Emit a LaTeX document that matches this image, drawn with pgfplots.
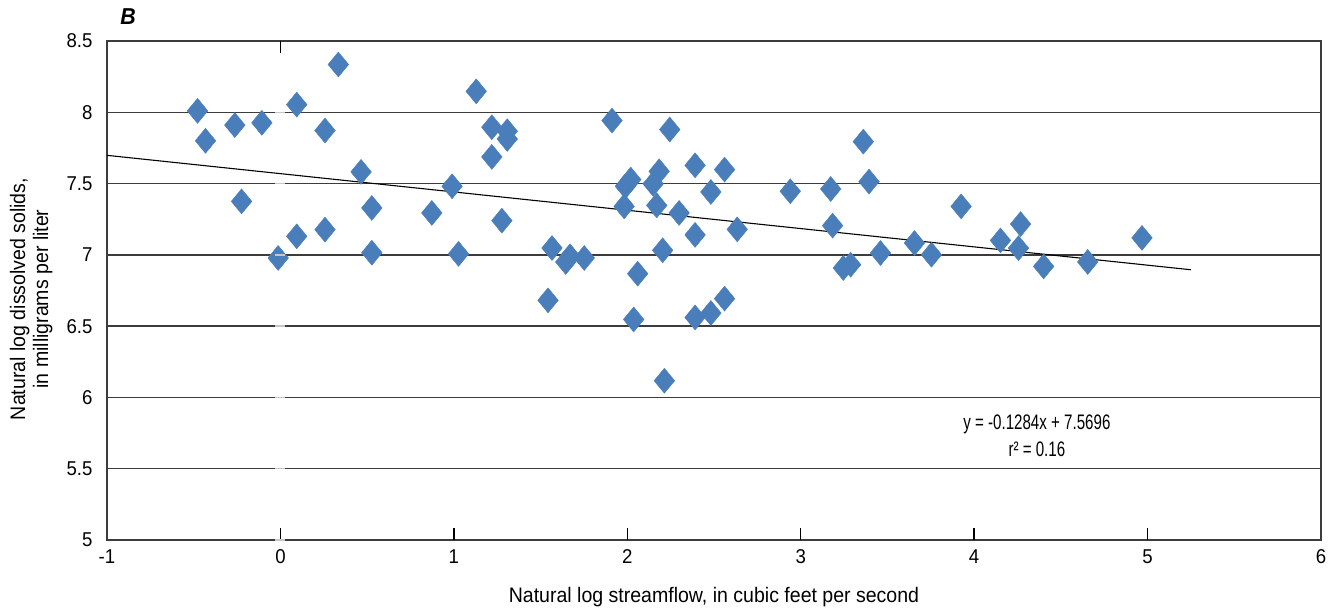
\documentclass[border=0pt]{standalone}
\usepackage{pgfplots}
\pgfplotsset{compat=1.18}
\usepackage{fontspec}
\setmainfont{Liberation Sans}[FakeStretch=0.93]
\newfontfamily\eqfont{Liberation Sans}[FakeStretch=0.72]
\definecolor{ptblue}{HTML}{4A7EBB}
\definecolor{gridgray}{HTML}{3C3C3C}

% ln(streamflow), ln(dissolved solids)
\pgfplotstableread{
x y
-0.478 8.010
-0.432 7.800
-0.263 7.910
-0.224 7.375
-0.107 7.926
-0.013 6.978
0.094 8.054
0.094 7.130
0.257 7.872
0.257 7.177
0.334 8.335
0.465 7.582
0.527 7.329
0.527 7.015
0.873 7.294
0.990 7.481
1.027 7.007
1.129 8.147
1.219 7.895
1.308 7.867
1.308 7.813
1.219 7.687
1.277 7.240
1.543 6.681
1.566 7.048
1.670 6.990
1.645 6.950
1.752 6.978
1.912 7.942
2.020 7.528
1.989 7.481
1.982 7.340
2.184 7.586
2.149 7.498
2.170 7.347
2.245 7.879
2.391 7.628
2.561 7.598
2.482 7.441
2.299 7.294
2.391 7.140
2.634 7.179
2.204 7.032
2.060 6.868
2.037 6.547
2.561 6.693
2.482 6.592
2.391 6.561
2.214 6.117
2.940 7.446
3.173 7.462
3.361 7.794
3.394 7.514
3.184 7.205
3.246 6.908
3.288 6.931
3.460 7.013
3.656 7.083
3.754 7.001
3.925 7.340
4.152 7.101
4.268 7.216
4.256 7.047
4.401 6.919
4.655 6.950
4.968 7.119
}\flowdata

\begin{document}
\begin{tikzpicture}
\useasboundingbox (-107bp,-71bp) rectangle (1223bp,540bp);
\begin{axis}[
  at={(0,0)}, anchor=south west,
  scale only axis, width=1214bp, height=499bp,
  xmin=-1, xmax=6, ymin=5, ymax=8.5,
  xtick={-1,0,1,2,3,4,5,6},
  xticklabels={-1,0,1,2,3,4,5,6},
  ytick={5,5.5,6,6.5,7,7.5,8,8.5},
  yticklabels={5,5.5,6,6.5,7,7.5,8,8.5},
  ymajorgrids,
  grid style={gridgray, line width=1.3bp},
  axis line style={gridgray, line width=1.5bp},
  tick style={draw=none},
  tick label style={font=\fontsize{20bp}{22bp}\selectfont},
  xticklabel style={yshift=-6bp},
  yticklabel style={xshift=-11bp},
  label style={font=\fontsize{21bp}{23bp}\selectfont},
  xlabel={Natural log streamflow, in cubic feet per second},
  ylabel={Natural log dissolved solids,\\in milligrams per liter},
  xlabel style={at={(axis description cs:0.5,-0.114)}, anchor=center},
  ylabel style={at={(axis description cs:-0.0625,0.483)}, anchor=center, align=center},
  clip=false,
]
\addplot[only marks, mark=diamond*, mark size=12.5bp,
  mark options={fill=ptblue, draw=ptblue, xscale=1.1}]
  table[x=x, y=y] {\flowdata};

% least-squares line
\addplot[black, line width=1.1bp] coordinates {(-1,7.6980) (5.25,6.8955)};

\node[align=center, font=\eqfont\fontsize{21bp}{27bp}\selectfont]
  at (axis cs:4.362,5.731) {y = -0.1284x + 7.5696\\r² = 0.16};

\node[font=\fontsize{23bp}{25bp}\selectfont\bfseries\itshape, anchor=center]
  at (axis description cs:0.0173,1.048) {B};
\end{axis}
% inward x-axis ticks and the y-axis marks at x = 0 (axis origin at (0,0), 173.43bp per x unit, 142.57bp per y unit)
\foreach \i in {0,...,5}{
  \draw[black, line width=1.5bp] ({173.43bp*(\i+1)},0) -- ++(0,12bp);
}
\draw[black, line width=1.5bp] (173.43bp,499bp) -- ++(0,-12bp);
\foreach \j in {0,...,6}{
  \draw[gray!45, line width=1.5bp] (168.43bp,{71.29bp*\j}) -- ++(10bp,0);
}
\end{tikzpicture}
\end{document}
